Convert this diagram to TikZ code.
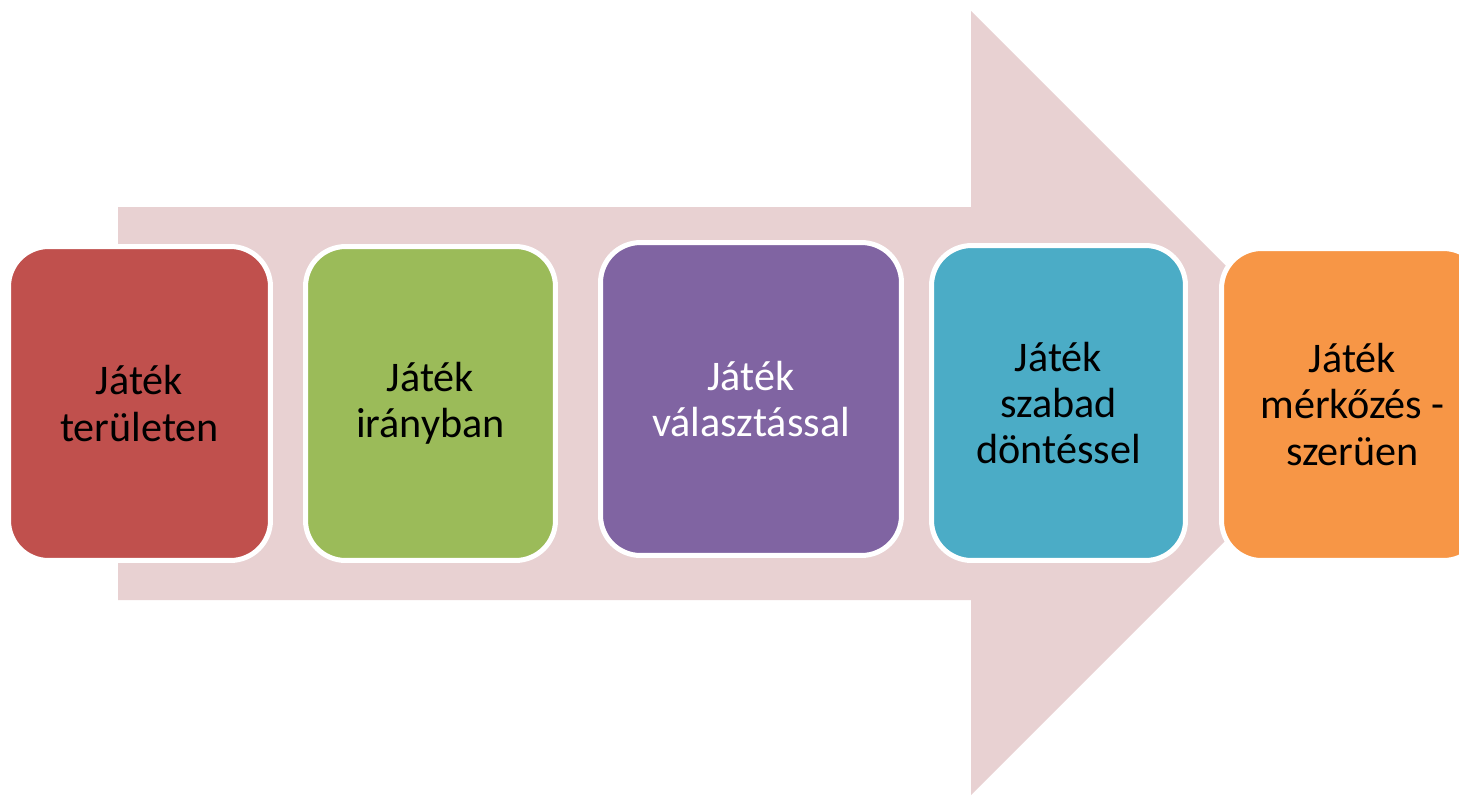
\documentclass[tikz,border=0pt]{standalone}
\usepackage{fontspec}
\setmainfont{Carlito}
\usetikzlibrary{positioning}
\definecolor{arrpink}{RGB}{232,209,210}
\definecolor{boxred}{RGB}{192,80,77}
\definecolor{boxgrn}{RGB}{155,187,89}
\definecolor{boxpur}{RGB}{128,100,162}
\definecolor{boxblu}{RGB}{75,172,198}
\definecolor{boxorg}{RGB}{247,150,70}
\tikzset{
    stepbox/.style={rounded corners=0.8cm,draw=white,line width=0.1cm,inner sep=0pt,outer sep=0pt,align=center,font=\fontsize{24}{26.2}\selectfont,text=black},
    rndred/.style={stepbox,fill=boxred,minimum width=5.24cm,minimum height=6.28cm},
    rndgrn/.style={stepbox,fill=boxgrn,minimum width=5cm,minimum height=6.28cm},
    rndpur/.style={stepbox,fill=boxpur,minimum width=6.02cm,minimum height=6.26cm,text=white},
    rndblu/.style={stepbox,fill=boxblu,minimum width=5.08cm,minimum height=6.3cm},
    rndorg/.style={stepbox,fill=boxorg,minimum width=5.24cm,minimum height=6.24cm}
}
\begin{document}
\begin{tikzpicture}[x=0.02cm,y=-0.02cm]
        \useasboundingbox (0,0) rectangle (1459,795);
        % background arrow
        \fill[arrpink] (118,207) -- (971,207) -- (971,11) -- (1363,403)
            -- (971,795) -- (971,600) -- (118,600) -- cycle;

        \node[rndred] (terulet) at (139.5,403.5) {Játék\\területen};
        \node[rndgrn] (irany) at (430.5,403.5) {Játék\\irányban};
        \node[rndpur] (valaszt) at (751,399) {Játék\\választással};
        \node[rndblu] (dontes) at (1058.5,403) {Játék\\szabad\\döntéssel};
        \node[rndorg] (merkozes) at (1352.5,404.5) {Játék\\mérkőzés -\\szerüen};
    \end{tikzpicture}
\end{document}
